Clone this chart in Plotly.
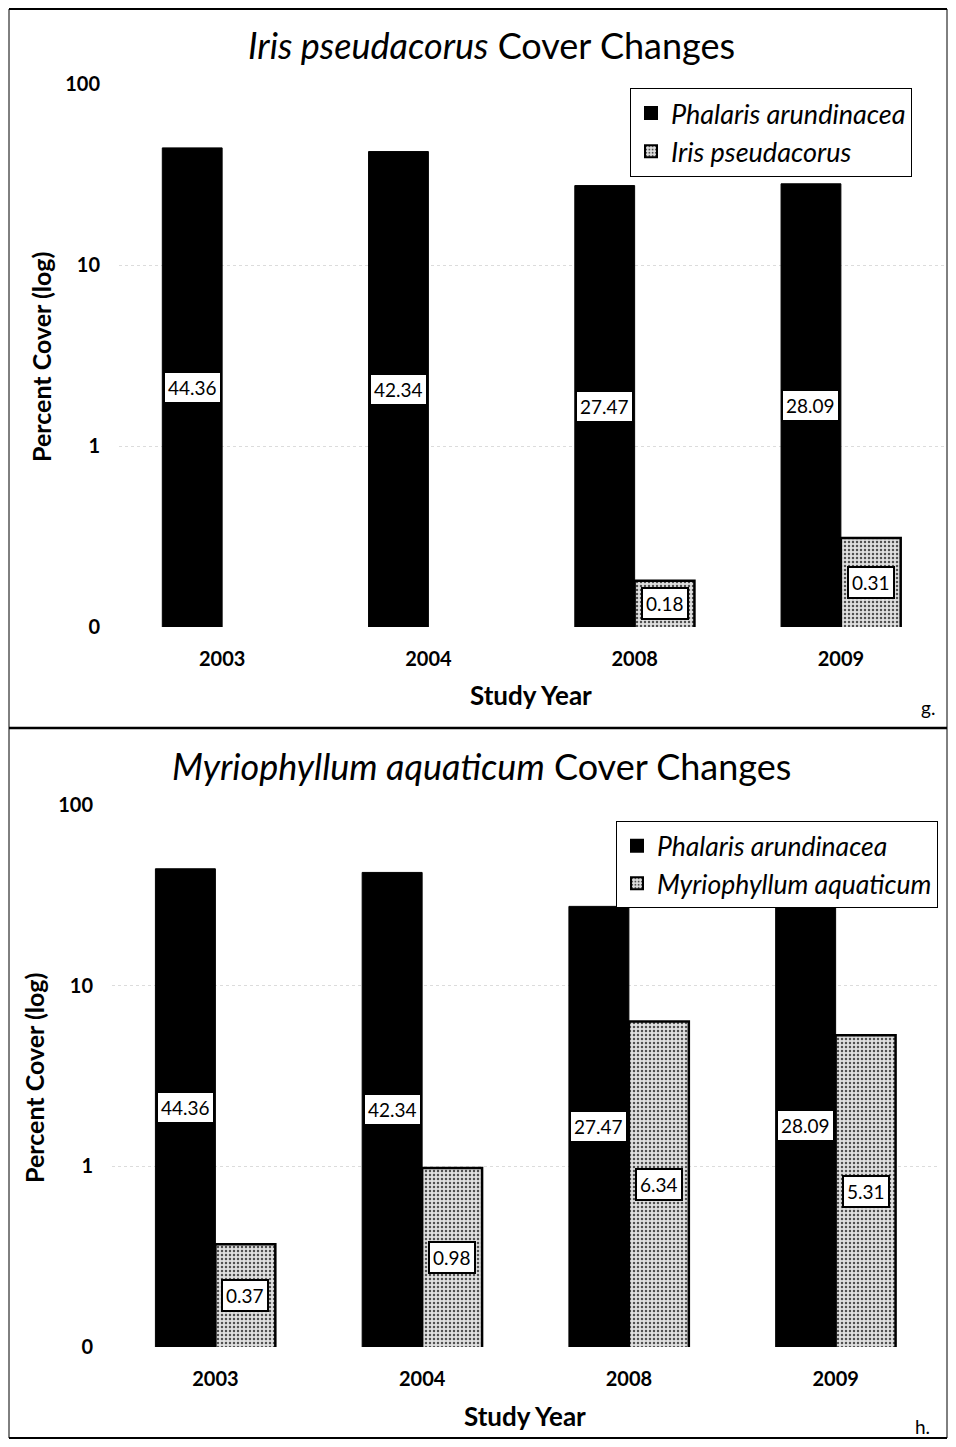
import plotly.graph_objects as go
import math

years = ["2003", "2004", "2008", "2009"]
phalaris = [44.36, 42.34, 27.47, 28.09]
iris = [None, None, 0.18, 0.31]
myrio = [0.37, 0.98, 6.34, 5.31]
ytick_vals = [0.1, 1, 10, 100]
ytick_text = ["0", "1", "10", "100"]

FONT = "Lato"
W, H = 940, 1431
OFF = 8
bargap = 0.42
xs = list(range(len(years)))

fig = go.Figure()


def py(pix):
    return 1 - (pix - OFF) / H


def px(pix):
    return (pix - OFF) / W


def add_panel(fig, other, other_name, xa, ya, legend):
    fig.add_trace(go.Bar(
        x=xs, y=phalaris, name="<i>Phalaris arundinacea</i>",
        marker=dict(color="black", line=dict(color="black", width=1)),
        xaxis=xa, yaxis=ya, legend=legend))
    fig.add_trace(go.Bar(
        x=xs, y=other, name="<i>" + other_name + "</i>",
        marker=dict(color="#d0d0d0", line=dict(color="black", width=2.5),
                    pattern=dict(shape=".", bgcolor="#e0e0e0", fgcolor="#505050",
                                 size=4, solidity=0.3)),
        xaxis=xa, yaxis=ya, legend=legend))
    half = (1 - bargap) / 4
    for series, off in ((phalaris, -half), (other, half)):
        for i, v in enumerate(series):
            if v is None:
                continue
            ymid = 10 ** ((math.log10(v) + math.log10(ytick_vals[0])) / 2)
            fig.add_annotation(
                x=xs[i] + off, y=math.log10(ymid), xref=xa, yref=ya,
                text=f"{v:.2f}", showarrow=False,
                font=dict(family=FONT, size=19, color="black"),
                bgcolor="white", bordercolor="black", borderwidth=2, borderpad=3)


add_panel(fig, iris, "Iris pseudacorus", "x", "y", "legend")
add_panel(fig, myrio, "Myriophyllum aquaticum", "x2", "y2", "legend2")

tickfont = dict(family=FONT, size=20, color="black", weight="bold")
xaxis_common = dict(tickmode="array", tickvals=xs, ticktext=years, range=[-0.5, 3.5],
                    showgrid=False, zeroline=False, showline=False, automargin=False,
                    ticks="outside", ticklen=14, tickcolor="rgba(0,0,0,0)",
                    tickfont=tickfont)
yaxis_common = dict(type="log", range=[-1, 2], tickmode="array", tickvals=ytick_vals,
                    ticktext=ytick_text, showgrid=True, gridcolor="#dcdcdc", griddash="dot",
                    gridwidth=1, zeroline=False, showline=False, automargin=False,
                    ticks="outside", ticklen=14, tickcolor="rgba(0,0,0,0)",
                    tickfont=tickfont)

legend_common = dict(xanchor="left", yanchor="top", bordercolor="black", borderwidth=1,
                     bgcolor="white", itemsizing="constant", itemwidth=30)

fig.update_layout(
    template="none",
    width=W, height=H, margin=dict(l=0, r=0, t=0, b=0, pad=0, autoexpand=False),
    paper_bgcolor="white", plot_bgcolor="white",
    barmode="group", bargap=bargap, bargroupgap=0,
    showlegend=True,
    xaxis=dict(domain=[px(119), px(944)], anchor="y", **xaxis_common),
    yaxis=dict(domain=[py(627), py(84)], anchor="x", **yaxis_common),
    xaxis2=dict(domain=[px(112), px(939)], anchor="y2", **xaxis_common),
    yaxis2=dict(domain=[py(1347), py(805)], anchor="x2", **yaxis_common),
    legend=dict(x=px(630), y=py(88), font=dict(family=FONT, size=27, color="black"),
                **legend_common),
    legend2=dict(x=px(616), y=py(821), font=dict(family=FONT, size=26.5, color="black"),
                 **legend_common),
)

# titles and axis labels
texts = [
    ("<i>Iris pseudacorus</i> Cover Changes", 492, 45, 36, 0),
    ("<i>Myriophyllum aquaticum</i> Cover Changes", 481, 766, 36, 0),
    ("<b>Study Year</b>", 531, 695, 26, 0),
    ("<b>Study Year</b>", 525, 1416, 26, 0),
    ("<b>Percent Cover (log)</b>", 41, 357, 25, -90),
    ("<b>Percent Cover (log)</b>", 34, 1078, 25, -90),
    ("g.", 928, 707, 19, 0),
    ("h.", 922, 1426, 19, 0),
]
for t, x, y, s, ang in texts:
    fig.add_annotation(x=px(x), y=py(y), xref="paper", yref="paper", text=t,
                       showarrow=False, textangle=ang,
                       font=dict(family=FONT, size=s, color="black"),
                       xanchor="center", yanchor="middle")

# frame lines (reference pixel coordinates)
for x0, y0, x1, y1, w in [(9, 9, 947, 9, 2), (9, 9, 9, 1438, 1), (947, 9, 947, 1438, 1),
                          (9, 1438, 947, 1438, 2), (9, 728, 947, 728, 2.5)]:
    fig.add_shape(type="line", xref="paper", yref="paper",
                  x0=px(x0), y0=py(y0), x1=px(x1), y1=py(y1),
                  line=dict(color="black", width=w))

fig.write_html("out.html")
